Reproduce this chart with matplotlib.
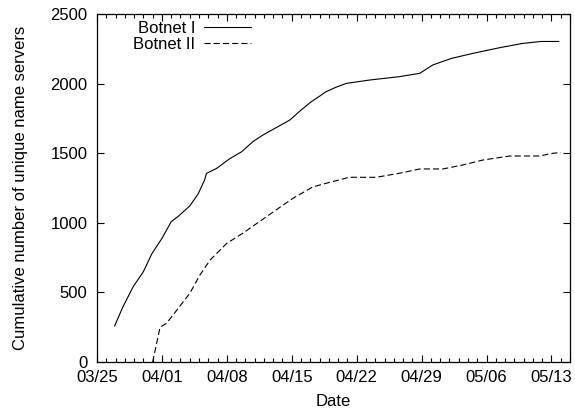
import matplotlib
matplotlib.use("Agg")
import matplotlib.pyplot as plt
from matplotlib.ticker import MultipleLocator

plt.rcParams['font.family'] = ['Liberation Sans', 'DejaVu Sans']

# days counted from 03/25
days_1 = [1.9, 2.8, 3.9, 5.0, 5.9, 7.0, 8.0, 8.8, 10.0, 10.5, 10.9, 11.6, 11.8,
          12.9, 14.3, 15.6, 16.8, 17.9, 20.8, 22.0, 23.1, 24.0, 24.7, 25.8,
          26.9, 29.4, 32.6, 34.8, 36.2, 38.2, 40.5, 43.4, 45.9, 47.9, 49.8]
botnet_1 = [259, 397, 541, 649, 776, 888, 1008, 1049, 1121, 1169, 1207, 1307, 1355,
            1391, 1460, 1511, 1583, 1631, 1739, 1810, 1870, 1910, 1942, 1975,
            2002, 2026, 2050, 2074, 2134, 2181, 2217, 2258, 2289, 2303, 2303]

days_2 = [6.0, 6.8, 7.5, 8.75, 10.0, 11.1, 12.2, 14.0, 15.7, 17.5, 19.3, 21.1,
          23.3, 25.4, 27.2, 30.1, 32.6, 34.8, 37.3, 39.4, 41.6, 44.5, 47.7,
          49.1, 50.0]
botnet_2 = [0, 250, 278, 385, 493, 625, 733, 853, 924, 1008, 1092, 1175,
            1259, 1296, 1327, 1327, 1356, 1387, 1387, 1415, 1451, 1480, 1480,
            1499, 1505]

tick_days = [0, 7, 14, 21, 28, 35, 42, 49]
tick_labels = ["03/25", "04/01", "04/08", "04/15", "04/22", "04/29", "05/06", "05/13"]

fig = plt.figure(figsize=(5.75, 4.13), dpi=100)
ax = fig.add_axes([0.1687, 0.1235, 0.8226, 0.8425])

ax.plot(days_1, botnet_1, color="black", lw=0.8, label="Botnet I")
ax.plot(days_2, botnet_2, color="black", lw=0.8, linestyle=(0, (5.5, 2.8)),
        label="Botnet II")

ax.set_xlim(0, 51)
ax.set_ylim(0, 2500)
ax.set_xticks(tick_days)
ax.set_xticklabels(tick_labels)
ax.xaxis.set_minor_locator(MultipleLocator(1))
ax.set_yticks([0, 500, 1000, 1500, 2000, 2500])

ax.tick_params(which="both", direction="in", top=True, right=True,
               labelsize=12, width=0.8)
ax.tick_params(axis="x", pad=6)
ax.tick_params(axis="y", pad=7)
ax.tick_params(which="major", length=5)
ax.tick_params(which="minor", length=3)
for s in ax.spines.values():
    s.set_linewidth(0.9)

ax.set_xlabel("Date", fontsize=12, labelpad=6)
ax.set_ylabel("Cumulative number of unique name servers", fontsize=12, labelpad=16)

ax.legend(loc="upper left", bbox_to_anchor=(0.076, 0.98), frameon=False,
          markerfirst=False, fontsize=12, handlelength=2.8, handletextpad=0.55,
          labelspacing=0.05, borderpad=0, borderaxespad=0)

fig.savefig("out.png", dpi=100)
